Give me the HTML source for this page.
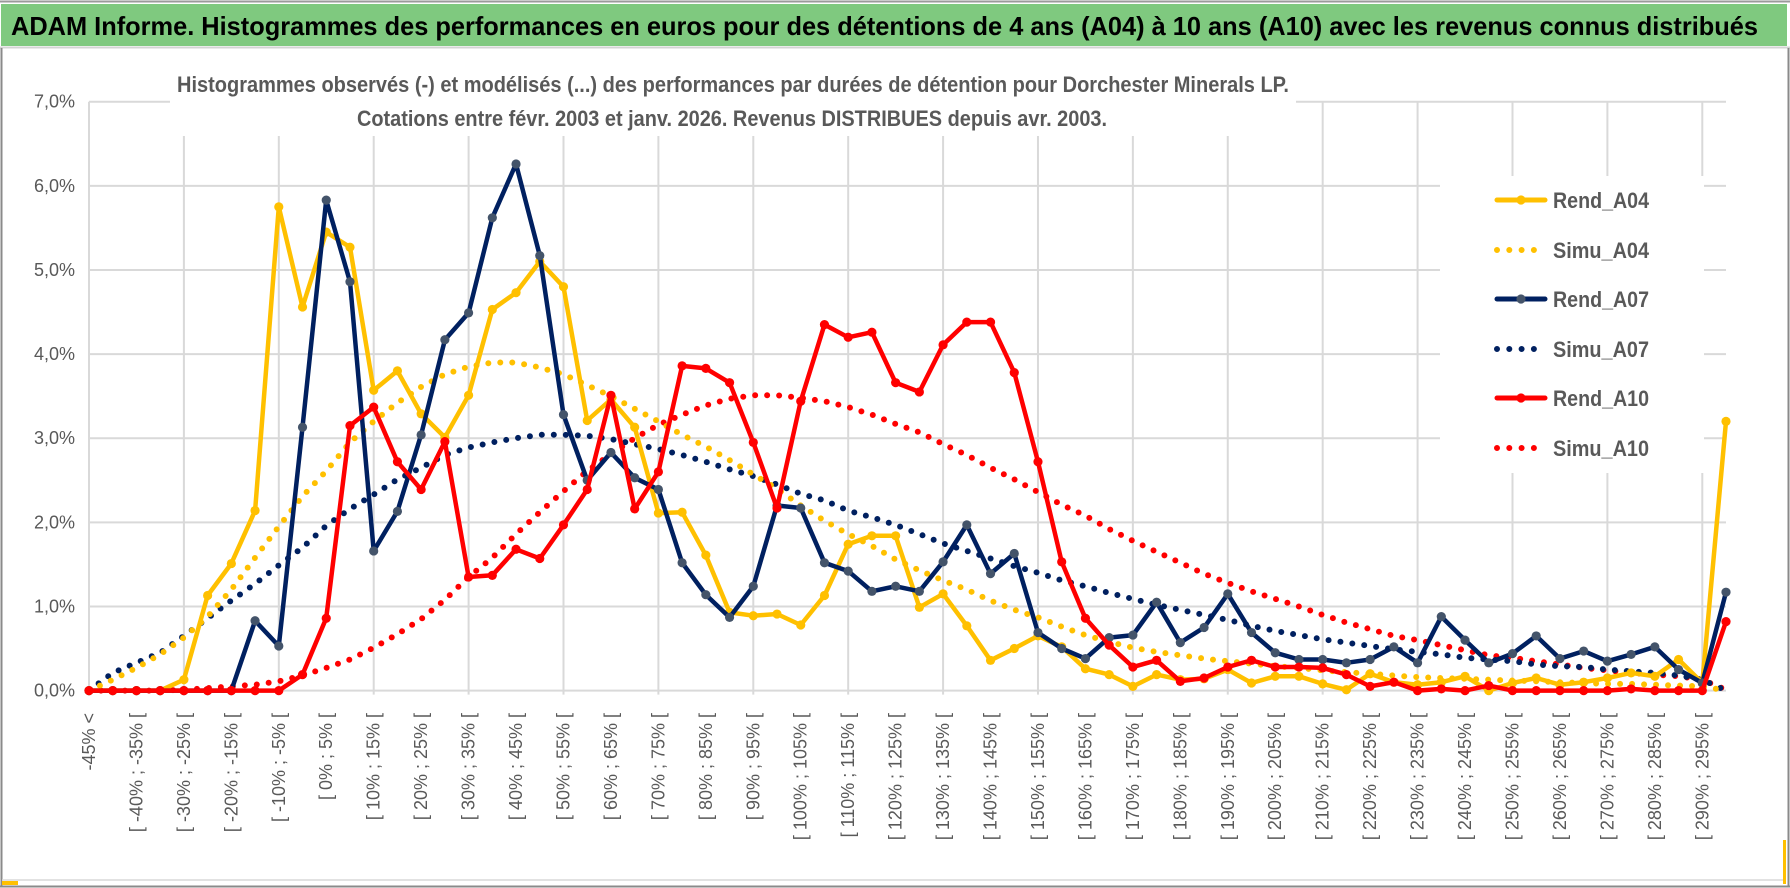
<!DOCTYPE html>
<html><head><meta charset="utf-8">
<style>
html,body{margin:0;padding:0;background:#fff;}
svg{display:block;}
text{font-family:"Liberation Sans Narrow","Liberation Sans",sans-serif;}
</style></head>
<body>
<svg id="chart" width="1790" height="888" viewBox="0 0 1790 888" xmlns="http://www.w3.org/2000/svg">
  <rect x="0" y="0" width="1790" height="888" fill="#ffffff"/>
  <rect x="1" y="4" width="1786" height="42" fill="#7fc97f"/>
  <line x1="0" y1="1.5" x2="1790" y2="1.5" stroke="#9a9a9a" stroke-width="2"/>
  <line x1="0" y1="47.5" x2="1790" y2="47.5" stroke="#d4d4d4" stroke-width="2"/>
  <text x="11" y="35" font-size="26" font-weight="bold" fill="#000" textLength="1747" lengthAdjust="spacingAndGlyphs">ADAM Informe. Histogrammes des performances en euros pour des détentions de 4 ans (A04) à 10 ans (A10) avec les revenus connus distribués</text>
  <line x1="1.5" y1="48" x2="1.5" y2="886" stroke="#8a8a8a" stroke-width="2"/>
  <line x1="1788.5" y1="48" x2="1788.5" y2="886" stroke="#8a8a8a" stroke-width="2"/>
  <line x1="0" y1="886.5" x2="1790" y2="886.5" stroke="#8a8a8a" stroke-width="2"/>
  <line x1="2" y1="880" x2="1786" y2="880" stroke="#d9d9d9" stroke-width="1.5"/>
  <rect x="2" y="881" width="16" height="4" fill="#ffc000"/>
  <rect x="1783" y="840" width="3" height="44" fill="#ffc000"/>
  <g id="grid"></g>
  <rect x="170" y="66" width="1126" height="70" fill="#fff"/>
  <text x="733" y="92" font-size="22" font-weight="bold" fill="#595959" text-anchor="middle" textLength="1112" lengthAdjust="spacingAndGlyphs">Histogrammes observés (-) et modélisés (...) des performances par durées de détention pour Dorchester Minerals LP.</text>
  <text x="732" y="126" font-size="22" font-weight="bold" fill="#595959" text-anchor="middle" textLength="750" lengthAdjust="spacingAndGlyphs">Cotations entre févr. 2003 et janv. 2026. Revenus DISTRIBUES depuis avr. 2003.</text>
  <g id="yaxis"></g>
  <g id="xaxis"></g>
  <g id="series"></g>
  <g id="legend"></g>
</svg>
<script>
const categories = ["-45% <","[ -45% ; -40% [","[ -40% ; -35% [","[ -35% ; -30% [","[ -30% ; -25% [","[ -25% ; -20% [","[ -20% ; -15% [","[ -15% ; -10% [","[ -10% ; -5% [","[ -5% ; 0% [",
"[ 0% ; 5% [","[ 5% ; 10% [","[ 10% ; 15% [","[ 15% ; 20% [","[ 20% ; 25% [","[ 25% ; 30% [","[ 30% ; 35% [","[ 35% ; 40% [","[ 40% ; 45% [","[ 45% ; 50% [",
"[ 50% ; 55% [","[ 55% ; 60% [","[ 60% ; 65% [","[ 65% ; 70% [","[ 70% ; 75% [","[ 75% ; 80% [","[ 80% ; 85% [","[ 85% ; 90% [","[ 90% ; 95% [","[ 95% ; 100% [",
"[ 100% ; 105% [","[ 105% ; 110% [","[ 110% ; 115% [","[ 115% ; 120% [","[ 120% ; 125% [","[ 125% ; 130% [","[ 130% ; 135% [","[ 135% ; 140% [","[ 140% ; 145% [","[ 145% ; 150% [",
"[ 150% ; 155% [","[ 155% ; 160% [","[ 160% ; 165% [","[ 165% ; 170% [","[ 170% ; 175% [","[ 175% ; 180% [","[ 180% ; 185% [","[ 185% ; 190% [","[ 190% ; 195% [","[ 195% ; 200% [",
"[ 200% ; 205% [","[ 205% ; 210% [","[ 210% ; 215% [","[ 215% ; 220% [","[ 220% ; 225% [","[ 225% ; 230% [","[ 230% ; 235% [","[ 235% ; 240% [","[ 240% ; 245% [","[ 245% ; 250% [",
"[ 250% ; 255% [","[ 255% ; 260% [","[ 260% ; 265% [","[ 265% ; 270% [","[ 270% ; 275% [","[ 275% ; 280% [","[ 280% ; 285% [","[ 285% ; 290% [","[ 290% ; 295% [","> 295%"];
const rendA04 = [0,0,0,0,0.13,1.13,1.51,2.14,5.75,4.56, 5.45,5.27,3.57,3.8,3.29,3.01,3.51,4.53,4.73,5.1, 4.8,3.21,3.46,3.13,2.11,2.12,1.61,0.93,0.89,0.91, 0.78,1.13,1.74,1.84,1.84,0.99,1.15,0.77,0.36,0.5, 0.65,0.52,0.26,0.19,0.05,0.19,0.13,0.14,0.25,0.09, 0.17,0.17,0.08,0.01,0.2,0.1,0.07,0.1,0.17,0, 0.09,0.15,0.07,0.1,0.15,0.21,0.17,0.37,0.09,3.2];
const simuA04 = [0,0.13,0.27,0.43,0.63,0.88,1.2,1.58,1.95,2.31, 2.61,2.95,3.2,3.42,3.61,3.76,3.85,3.9,3.9,3.84, 3.76,3.63,3.5,3.35,3.2,3.04,2.9,2.74,2.57,2.4, 2.2,2.02,1.86,1.72,1.56,1.43,1.31,1.2,1.07,0.96, 0.87,0.76,0.66,0.58,0.51,0.46,0.42,0.38,0.35,0.32, 0.29,0.27,0.24,0.22,0.2,0.18,0.16,0.15,0.14,0.13, 0.12,0.11,0.1,0.09,0.08,0.08,0.07,0.06,0.05,0];
const rendA07 = [0,0,0,0,0,0,0,0.83,0.53,3.13, 5.83,4.86,1.66,2.13,3.04,4.17,4.49,5.62,6.26,5.17, 3.28,2.5,2.83,2.53,2.39,1.52,1.14,0.87,1.24,2.2, 2.17,1.52,1.42,1.18,1.24,1.18,1.53,1.97,1.39,1.63, 0.69,0.5,0.38,0.63,0.66,1.05,0.57,0.75,1.15,0.69, 0.45,0.37,0.37,0.33,0.37,0.52,0.33,0.88,0.6,0.33, 0.44,0.65,0.38,0.47,0.35,0.43,0.52,0.25,0.09,1.17];
const simuA07 = [0,0.21,0.33,0.45,0.65,0.86,1.07,1.27,1.49,1.7, 1.96,2.16,2.33,2.51,2.65,2.8,2.89,2.95,3.0,3.04, 3.04,3.03,2.99,2.93,2.87,2.8,2.72,2.63,2.55,2.45, 2.34,2.26,2.14,2.06,1.97,1.86,1.75,1.66,1.57,1.48, 1.4,1.31,1.24,1.16,1.09,1.02,0.96,0.9,0.84,0.77, 0.71,0.66,0.61,0.57,0.53,0.49,0.46,0.43,0.39,0.37, 0.35,0.31,0.29,0.28,0.25,0.23,0.21,0.18,0.13,0];
const rendA10 = [0,0,0,0,0,0,0,0,0,0.19, 0.86,3.15,3.37,2.72,2.39,2.96,1.35,1.37,1.68,1.57, 1.97,2.39,3.51,2.16,2.6,3.86,3.83,3.66,2.95,2.17, 3.44,4.35,4.2,4.26,3.66,3.55,4.11,4.38,4.38,3.78, 2.72,1.53,0.86,0.54,0.28,0.36,0.11,0.15,0.28,0.36, 0.28,0.28,0.27,0.19,0.05,0.1,0,0.02,0,0.06, 0,0,0,0,0,0.02,0,0,0,0.82];
const simuA10 = [0,0,0,0,0.01,0.03,0.05,0.07,0.11,0.18, 0.27,0.37,0.51,0.67,0.85,1.08,1.35,1.58,1.86,2.12, 2.37,2.61,2.81,3.0,3.16,3.28,3.39,3.47,3.51,3.51, 3.48,3.44,3.37,3.28,3.17,3.07,2.93,2.8,2.65,2.51, 2.36,2.21,2.08,1.92,1.78,1.65,1.52,1.39,1.28,1.18, 1.09,1.0,0.9,0.81,0.73,0.65,0.6,0.54,0.48,0.42, 0.39,0.35,0.31,0.27,0.24,0.21,0.19,0.17,0.13,0.01];
const yTicks = [0,1,2,3,4,5,6,7];
const yTickLabels = ["0,0%","1,0%","2,0%","3,0%","4,0%","5,0%","6,0%","7,0%"];
const seriesNames = ["Rend_A04","Simu_A04","Rend_A07","Simu_A07","Rend_A10","Simu_A10"];

const NS = "http://www.w3.org/2000/svg";
const X0 = 89, X1 = 1726, Y0 = 690.6, YPER = 84.13;
function xScale(i){ return X0 + i * (X1 - X0) / (categories.length - 1); }
function yScale(v){ return Y0 - v * YPER; }
function mk(tag, attrs, parent){
  const el = document.createElementNS(NS, tag);
  for (const k in attrs) el.setAttribute(k, attrs[k]);
  parent.appendChild(el);
  return el;
}
const grid = document.getElementById('grid');
const yaxis = document.getElementById('yaxis');
const xaxis = document.getElementById('xaxis');
const seriesG = document.getElementById('series');
const legend = document.getElementById('legend');

// horizontal gridlines + y labels
yTicks.forEach((t, k) => {
  const y = yScale(t);
  const gl = mk('line', {x1: X0, x2: X1, y1: y, y2: y, stroke: '#d9d9d9', 'stroke-width': 2}, grid);
  
  
  const tx = mk('text', {x: 75, y: y + 6, 'text-anchor': 'end', 'font-size': 18, fill: '#595959'}, yaxis);
  tx.textContent = yTickLabels[k];
  
  
});
// vertical gridlines every 4 categories
for (let i = 0; i < categories.length; i += 4) {
  const x = xScale(i);
  const gl = mk('line', {x1: x, x2: x, y1: yScale(7), y2: Y0 + 4, stroke: '#d9d9d9', 'stroke-width': 2}, grid);
  
  
}
// x labels
categories.forEach((c, i) => {
  if (i % 2 !== 0) return;
  const x = xScale(i);
  const tx = mk('text', {x: 0, y: 0, 'text-anchor': 'end', 'font-size': 18, fill: '#595959',
    transform: 'translate(' + (x + 6) + ',713) rotate(-90)'}, xaxis);
  tx.style.fontFamily = '"Liberation Sans", sans-serif';
  tx.textContent = c;
  
  
});

function pts(arr){ return arr.map((v, i) => xScale(i).toFixed(1) + ',' + yScale(v).toFixed(1)).join(' '); }
function drawRend(arr, color, mcolor, name){
  const g = mk('g', {}, seriesG);
  
  
  const pl = mk('polyline', {points: pts(arr), fill: 'none', stroke: color, 'stroke-width': 4.5, 'stroke-linejoin': 'round', 'stroke-linecap': 'round'}, g);
  
  
  arr.forEach((v, i) => {
    const c = mk('circle', {cx: xScale(i), cy: yScale(v), r: 4.6, fill: mcolor}, g);
    
    
  });
}
function drawSimu(arr, color, name){
  const pl = mk('polyline', {points: pts(arr), fill: 'none', stroke: color, 'stroke-width': 6, 'stroke-dasharray': '0 12', 'stroke-linecap': 'round', 'stroke-linejoin': 'round'}, seriesG);
  
  
}
drawSimu(simuA10, '#ff0000', 'simu-a10');
drawSimu(simuA07, '#002060', 'simu-a07');
drawSimu(simuA04, '#ffc000', 'simu-a04');
drawRend(rendA04, '#ffc000', '#ffc000', 'rend-a04');
drawRend(rendA07, '#002060', '#44546a', 'rend-a07');
drawRend(rendA10, '#ff0000', '#ff0000', 'rend-a10');

// legend
const lb = mk('rect', {x: 1440, y: 176, width: 264, height: 297, fill: '#fff'}, legend);


const legColors = ['#ffc000','#ffc000','#002060','#002060','#ff0000','#ff0000'];
const legMarker = ['#ffc000','#ffc000','#44546a','#44546a','#ff0000','#ff0000'];
const legY = [200, 250, 299, 349, 398, 448];
seriesNames.forEach((n, k) => {
  const y = legY[k];
  const g = mk('g', {}, legend);
  
  
  if (k % 2 === 0) {
    mk('line', {x1: 1497, x2: 1545, y1: y, y2: y, stroke: legColors[k], 'stroke-width': 5, 'stroke-linecap': 'round'}, g);
    mk('circle', {cx: 1521, cy: y, r: 4.6, fill: legMarker[k]}, g);
  } else {
    mk('line', {x1: 1497, x2: 1545, y1: y, y2: y, stroke: legColors[k], 'stroke-width': 6, 'stroke-dasharray': '0 12.3', 'stroke-linecap': 'round'}, g);
  }
  const t = mk('text', {x: 1553, y: y + 8, 'font-size': 22, 'font-weight': 'bold', fill: '#595959', textLength: 96, lengthAdjust: 'spacingAndGlyphs'}, g);
  t.textContent = n;
});
</script>
</body></html>
